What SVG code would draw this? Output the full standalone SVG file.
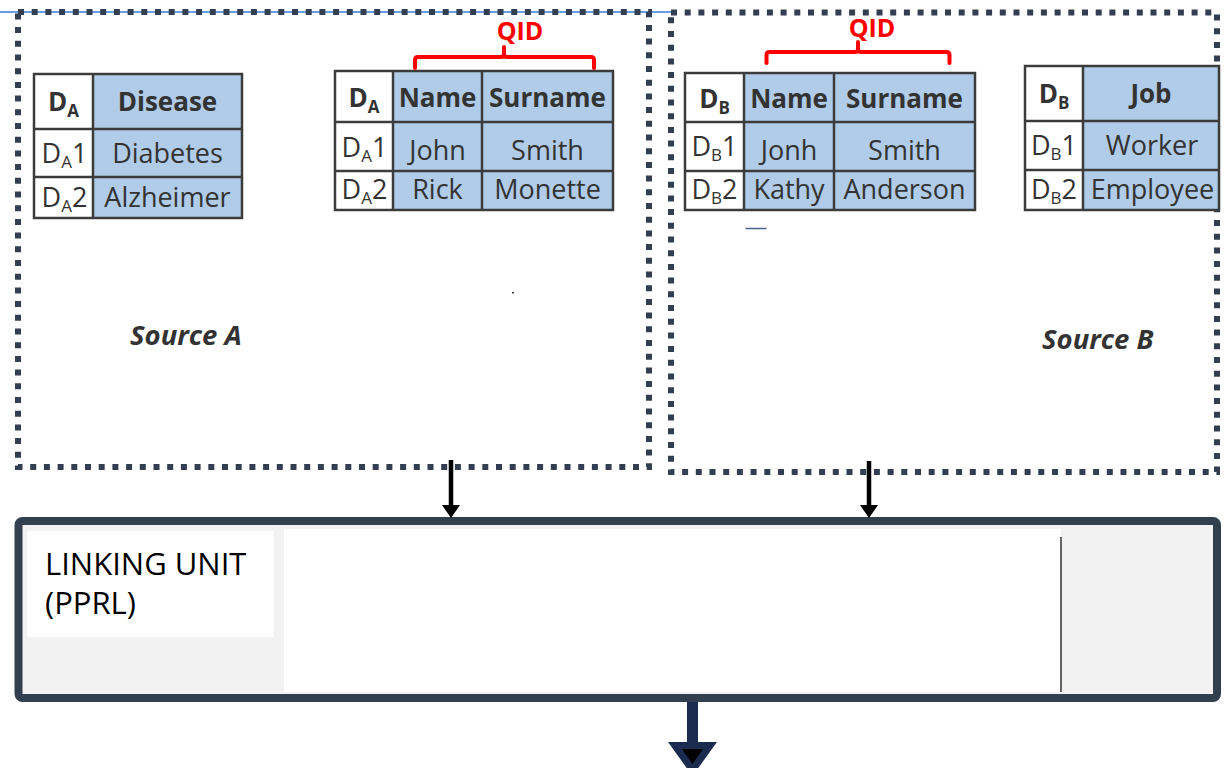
<svg xmlns="http://www.w3.org/2000/svg" width="1227" height="768" viewBox="0 0 1227 768">
<style>
.src{fill:none;stroke:#333f50;stroke-width:6;stroke-dasharray:6 7.7}
.grid{fill:none;stroke:#3c3c3c;stroke-width:2.5}
.blue{fill:#b1cce8}
.white{fill:#ffffff}
.t{font-family:"Open Sans","Liberation Sans",sans-serif;font-size:27px;fill:#333333;text-anchor:middle}
.b{font-weight:bold;font-size:26px}
.sub{font-size:17px}
.qid{font-family:"Open Sans","Liberation Sans",sans-serif;font-size:25px;font-weight:bold;fill:#ff0000;text-anchor:middle}
.br{fill:none;stroke:#ff0000;stroke-width:4;stroke-linejoin:round;stroke-linecap:round}
.lbl{font-family:"Open Sans","Liberation Sans",sans-serif;font-size:27.5px;font-weight:bold;font-style:italic;fill:#333333}
.conn{stroke:#000000;stroke-width:4.5;fill:none}
</style>
<defs>
<marker id="ah" markerUnits="userSpaceOnUse" viewBox="0 0 13 18" refX="0" refY="9" markerWidth="13" markerHeight="18" orient="auto">
<path d="M0,0 L13,9 L0,18 z" fill="#000000"/>
</marker>
</defs>
<rect width="1227" height="768" fill="#ffffff"/>
<line x1="0" y1="12" x2="672" y2="12" stroke="#3a7bd5" stroke-width="1.5"/>

<g id="source-a">
<rect class="src" x="18" y="12" width="631" height="455"/>
<text class="lbl" x="130" y="345">Source A</text>
<rect x="512" y="292" width="2" height="1.5" fill="#333f50"/>
</g>

<g id="source-b">
<rect class="src" x="671" y="12.5" width="546" height="459.5"/>
<text class="lbl" x="1042" y="349">Source B</text>
</g>

<g id="table-a-disease">
<rect class="white" x="34" y="74" width="59" height="144"/>
<rect class="blue" x="93" y="74" width="149" height="144"/>
<path class="grid" d="M34,74 H242 V218 H34 Z M93,74 V218 M34,129 H242 M34,177 H242"/>
<text class="t b" x="63.5" y="111">D<tspan class="sub" font-size="16" dy="6">A</tspan></text>
<text class="t b" x="167.5" y="111">Disease</text>
<text class="t" x="64.5" y="163">D<tspan class="sub" dy="5">A</tspan><tspan dy="-5">1</tspan></text>
<text class="t" x="167.5" y="163">Diabetes</text>
<text class="t" x="64.5" y="207">D<tspan class="sub" dy="5">A</tspan><tspan dy="-5">2</tspan></text>
<text class="t" x="167.5" y="207">Alzheimer</text>
</g>

<g id="table-a-qid">
<rect class="white" x="335" y="71" width="58" height="139"/>
<rect class="blue" x="393" y="71" width="220" height="139"/>
<path class="grid" d="M335,71 H613 V210 H335 Z M393,71 V210 M482,71 V210 M335,122 H613 M335,171 H613"/>
<text class="t b" x="364" y="107">D<tspan class="sub" font-size="16" dy="6">A</tspan></text>
<text class="t b" x="437.5" y="107">Name</text>
<text class="t b" x="547.5" y="107">Surname</text>
<text class="t" x="364.5" y="157">D<tspan class="sub" dy="5">A</tspan><tspan dy="-5">1</tspan></text>
<text class="t" x="437.5" y="160">John</text>
<text class="t" x="547.5" y="160">Smith</text>
<text class="t" x="364.5" y="199">D<tspan class="sub" dy="5">A</tspan><tspan dy="-5">2</tspan></text>
<text class="t" x="437.5" y="199">Rick</text>
<text class="t" x="547.5" y="199">Monette</text>
<path class="br" d="M415,68 V60 Q415,57 418,57 H501 Q504,57 504,54 V47 M504,54 Q504,57 507,57 H591 Q594,57 594,60 V68"/>
<text class="qid" x="520" y="40">QID</text>
</g>

<g id="table-b-qid">
<rect class="white" x="685" y="73" width="59" height="137"/>
<rect class="blue" x="744" y="73" width="231" height="137"/>
<path class="grid" d="M685,73 H975 V210 H685 Z M744,73 V210 M834,73 V210 M685,122 H975 M685,171 H975"/>
<text class="t b" x="714.5" y="108">D<tspan class="sub" font-size="16" dy="6">B</tspan></text>
<text class="t b" x="789" y="108">Name</text>
<text class="t b" x="904.5" y="108">Surname</text>
<text class="t" x="714.5" y="156">D<tspan class="sub" dy="5">B</tspan><tspan dy="-5">1</tspan></text>
<text class="t" x="789" y="160">Jonh</text>
<text class="t" x="904.5" y="160">Smith</text>
<text class="t" x="714.5" y="199">D<tspan class="sub" dy="5">B</tspan><tspan dy="-5">2</tspan></text>
<text class="t" x="789" y="199">Kathy</text>
<text class="t" x="904.5" y="199">Anderson</text>
<path class="br" d="M766.5,63 V55 Q766.5,52 769.5,52 H855 Q858,52 858,49 V42 M858,49 Q858,52 861,52 H946.5 Q949.5,52 949.5,55 V63"/>
<text class="qid" x="872" y="37">QID</text>
<line x1="745.5" y1="228.5" x2="766.5" y2="228.5" stroke="#4a6288" stroke-width="1.5"/>
</g>

<g id="table-b-job">
<rect class="white" x="1025" y="66" width="58" height="144"/>
<rect class="blue" x="1083" y="66" width="136" height="144"/>
<path class="grid" d="M1025,66 H1219 V210 H1025 Z M1083,66 V210 M1025,121 H1219 M1025,170 H1219"/>
<text class="t b" x="1054" y="103">D<tspan class="sub" font-size="16" dy="6">B</tspan></text>
<text class="t b" x="1151" y="103">Job</text>
<text class="t" x="1054" y="155">D<tspan class="sub" dy="5">B</tspan><tspan dy="-5">1</tspan></text>
<text class="t" x="1152" y="155">Worker</text>
<text class="t" x="1054" y="199">D<tspan class="sub" dy="5">B</tspan><tspan dy="-5">2</tspan></text>
<text class="t" x="1152.5" y="199">Employee</text>
</g>

<g id="linking-unit">
<rect x="18.5" y="521" width="1198.5" height="177" rx="4" fill="#f2f2f2" stroke="#323f4f" stroke-width="8"/>
<rect x="284" y="529" width="777" height="163" fill="#ffffff"/>
<line x1="1061" y1="537" x2="1061" y2="692" stroke="#333333" stroke-width="1.5"/>
<rect x="27" y="531" width="247" height="106" fill="#ffffff"/>
<text font-family="'Open Sans','Liberation Sans',sans-serif" font-size="31" fill="#000000"><tspan x="45" y="575">LINKING UNIT</tspan><tspan x="45" y="614">(PPRL)</tspan></text>
</g>

<g id="connectors">
<line class="conn" x1="451" y1="460" x2="451" y2="505" marker-end="url(#ah)"/>
<line class="conn" x1="869" y1="461" x2="869" y2="505" marker-end="url(#ah)"/>
<rect x="687" y="702" width="11" height="42" fill="#1b2b4f"/>
<polygon points="668,742 717,742 692.5,776" fill="#1b2b4f"/>
<polygon points="682,749 703,749 692.5,764" fill="#000000"/>
</g>
</svg>
